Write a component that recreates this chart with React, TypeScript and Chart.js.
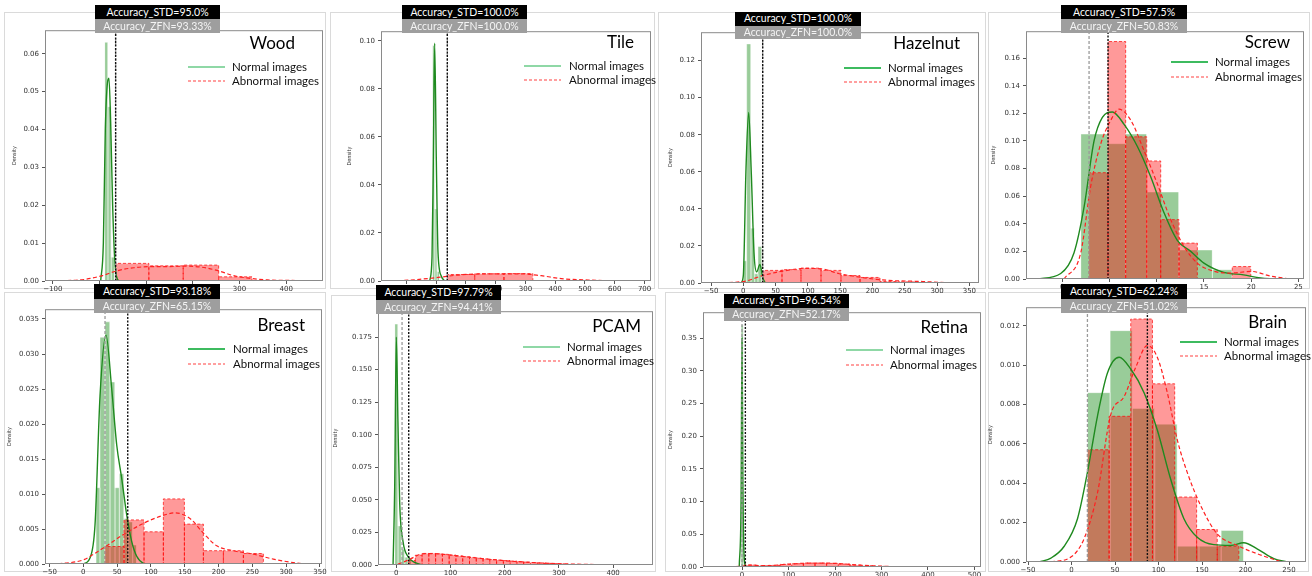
import React, { useEffect, useRef } from 'react';
import { Chart, registerables } from 'chart.js';

Chart.register(...registerables);

// ---------------- Wood ----------------
const woodNormalEdges = [11.1, 18.2, 25.3, 32.4];
const woodNormalHeights = [0.063, 0.046, 0.0063];
const woodAbnormalEdges = [34.6, 105.8, 179.3, 255.3, 326.7];
const woodAbnormalHeights = [0.00465, 0.004, 0.0042, 0.0011];
const woodNormalKdeX = [2.6, 8.3, 12.5, 16.8, 20.3, 23.9, 28.2, 32.5, 38.2, 44];
const woodNormalKdeY = [0, 0.01, 0.04, 0.052, 0.0535, 0.042, 0.02, 0.006, 0.0005, 0];
const woodAbnormalKdeX = [-97, -33, 2.6, 38, 73.7, 109, 145, 180.6, 216, 252, 287.4, 323, 358.8, 430, 455];
const woodAbnormalKdeY = [0, 0.0004, 0.0013, 0.0027, 0.0035, 0.0038, 0.0038, 0.0039, 0.0037, 0.0028, 0.0014, 0.0007, 0.0003, 0.0001, 0];
const woodThresholds = [34.6, 34.6]; // [STD, ZFN]
const woodXTicks = [-100, 0, 100, 200, 300, 400];
const woodYTicks = [0, 0.01, 0.02, 0.03, 0.04, 0.05, 0.06];

// ---------------- Tile ----------------
const tileNormalEdges = [-12, -4, 4, 12];
const tileNormalHeights = [0.098, 0.03, 0.004];
const tileAbnormalEdges = [38, 130, 228, 325];
const tileAbnormalHeights = [0.0027, 0.003, 0.0031];
const tileNormalKdeX = [-21, -13.4, -9, -4.5, 1.1, 6.7, 17.9, 29];
const tileNormalKdeY = [0, 0.01, 0.05, 0.099, 0.05, 0.012, 0.002, 0];
const tileAbnormalKdeX = [-150, -71.6, 6.7, 85, 197, 286, 353, 420, 510, 600, 700];
const tileAbnormalKdeY = [0, 0.0005, 0.0015, 0.0026, 0.003, 0.003, 0.0022, 0.001, 0.0004, 0.0001, 0];
const tileThresholds = [38, 38];
const tileXTicks = [-100, 0, 100, 200, 300, 400, 500, 600, 700];
const tileYTicks = [0, 0.02, 0.04, 0.06, 0.08, 0.1];

// ---------------- Hazelnut ----------------
const hazelnutNormalEdges = [0, 5.2, 11.9, 17.6, 22.7, 28.9];
const hazelnutNormalHeights = [0.012, 0.129, 0.0296, 0.005, 0.0197];
const hazelnutAbnormalEdges = [30, 59.9, 89.3, 120.3, 151.2, 180.7, 211.6, 241.6, 272.5];
const hazelnutAbnormalHeights = [0.0068, 0.0072, 0.008, 0.0068, 0.004, 0.003, 0.0008, 0.0006];
const hazelnutNormalKdeX = [-3.6, 0, 4.2, 8.3, 12.4, 16.6, 20.7, 25.8, 30, 34];
const hazelnutNormalKdeY = [0, 0.004, 0.062, 0.092, 0.059, 0.016, 0.006, 0.01, 0.003, 0];
const hazelnutAbnormalKdeX = [-52.6, 0, 30, 60.8, 97, 123, 148.6, 174.5, 205.4, 236.4, 257, 277.7, 313.8, 340];
const hazelnutAbnormalKdeY = [0, 0.0008, 0.004, 0.0064, 0.0079, 0.0075, 0.005, 0.0035, 0.002, 0.0012, 0.001, 0.0008, 0.0002, 0];
const hazelnutThresholds = [30, 30];
const hazelnutXTicks = [-50, 0, 50, 100, 150, 200, 250, 300, 350];
const hazelnutYTicks = [0, 0.02, 0.04, 0.06, 0.08, 0.1, 0.12];

// ---------------- Screw ----------------
const screwNormalEdges = [1.95, 4.85, 6.7, 8.95, 12.35, 15.9, 18.0];
const screwNormalHeights = [0.105, 0.098, 0.105, 0.063, 0.021, 0.0067];
const screwAbnormalEdges = [2.83, 4.84, 6.71, 8.94, 10.42, 12.36, 14.3, 18.0, 19.96];
const screwAbnormalHeights = [0.077, 0.172, 0.103, 0.0855, 0.043, 0.026, 0, 0.009];
const screwNormalKdeX = [-2.65, -0.17, 1.24, 2.3, 3.36, 4.24, 5.3, 6.54, 7.95, 9.36, 10.77, 12.18, 13.6, 15.0, 17.1, 19.2, 21.0, 22.5];
const screwNormalKdeY = [0, 0.004, 0.019, 0.052, 0.1, 0.117, 0.121, 0.112, 0.096, 0.074, 0.048, 0.028, 0.02, 0.0115, 0.0048, 0.003, 0.0007, 0];
const screwAbnormalKdeX = [0.18, 1.95, 3.0, 4.07, 5.13, 6.0, 7.25, 8.65, 10.06, 11.48, 12.9, 14.3, 16.1, 17.8, 20.0, 22.1, 24.2];
const screwAbnormalKdeY = [0, 0.019, 0.067, 0.098, 0.115, 0.123, 0.115, 0.093, 0.069, 0.043, 0.0235, 0.0115, 0.0055, 0.0043, 0.0055, 0.002, 0];
const screwThresholds = [4.84, 2.83];
const screwXTicks = [0, 5, 10, 15, 20, 25];
const screwYTicks = [0, 0.02, 0.04, 0.06, 0.08, 0.1, 0.12, 0.14, 0.16];

// ---------------- Breast ----------------
const breastNormalEdges = [18.8, 24.7, 32.1, 39.5, 46.9, 53.3, 60.2, 66.6, 73.0, 79.0];
const breastNormalHeights = [0.0109, 0.0324, 0.0346, 0.026, 0.0109, 0.0129, 0.0065, 0.006, 0.0027];
const breastAbnormalEdges = [32.1, 60.2, 89.8, 118.4, 149.5, 177.6, 207.2, 236.8, 266.4];
const breastAbnormalHeights = [0.0025, 0.0063, 0.0046, 0.0093, 0.0057, 0.0019, 0.0019, 0.0015];
const breastNormalKdeX = [0, 10, 17.3, 24.7, 33.6, 42, 49.4, 56.8, 64.2, 71.6, 79, 88.8, 95];
const breastNormalKdeY = [0, 0.0009, 0.0056, 0.024, 0.0327, 0.025, 0.017, 0.0122, 0.007, 0.0032, 0.0011, 0.0001, 0];
const breastAbnormalKdeX = [-37, 0, 29.6, 59.2, 88.8, 113.5, 135.7, 157.8, 177.6, 197.3, 222, 251.5, 281, 310.7, 330];
const breastAbnormalKdeY = [0, 0.0006, 0.0023, 0.0042, 0.0058, 0.0068, 0.0073, 0.0065, 0.0044, 0.0026, 0.0019, 0.0014, 0.0007, 0.0002, 0];
const breastThresholds = [65.7, 32.1];
const breastXTicks = [-50, 0, 50, 100, 150, 200, 250, 300, 350];
const breastYTicks = [0, 0.005, 0.01, 0.015, 0.02, 0.025, 0.03, 0.035];

// ---------------- PCAM ----------------
const pcamNormalEdges = [-3, 3.2, 9.4, 15.6, 21.8, 28];
const pcamNormalHeights = [0.185, 0.03, 0.012, 0.006, 0.003];
const pcamAbnormalEdges = [22.5, 35, 47.5, 60, 72.5, 85, 97.5, 110, 122.5, 135, 147.5, 160, 172.5, 185, 197.5, 210, 222.5, 235, 247.5, 260, 272.5, 285, 297.5, 310];
const pcamAbnormalHeights = [0.0035, 0.0075, 0.0089, 0.0089, 0.0086, 0.0082, 0.0076, 0.007, 0.0064, 0.0058, 0.0052, 0.0047, 0.0042, 0.0038, 0.0034, 0.003, 0.0026, 0.0022, 0.0019, 0.0016, 0.0013, 0.0011, 0.0009];
const pcamNormalKdeX = [-6, -3, 0, 3, 6.2, 12.4, 21.6, 33.9, 50];
const pcamNormalKdeY = [0, 0.06, 0.175, 0.11, 0.048, 0.018, 0.0064, 0.002, 0];
const pcamAbnormalKdeX = [-21, 0, 22.9, 46.9, 65.3, 96, 139, 194.5, 255.9, 317.4, 397, 450];
const pcamAbnormalKdeY = [0, 0.0005, 0.004, 0.0085, 0.0088, 0.0078, 0.0058, 0.0035, 0.0018, 0.0008, 0.0002, 0];
const pcamThresholds = [22.9, 10.6];
const pcamXTicks = [0, 100, 200, 300, 400];
const pcamYTicks = [0, 0.025, 0.05, 0.075, 0.1, 0.125, 0.15, 0.175];

// ---------------- Retina ----------------
const retinaNormalEdges = [-2, 3, 8];
const retinaNormalHeights = [0.37, 0.015];
const retinaAbnormalEdges = [7, 32, 57, 82, 107, 132, 157, 182, 207, 232, 257, 282, 307];
const retinaAbnormalHeights = [0.003, 0.0018, 0.0025, 0.004, 0.005, 0.006, 0.006, 0.0055, 0.0045, 0.003, 0.002, 0.001];
const retinaNormalKdeX = [-6, -2, 0, 2, 5, 10];
const retinaNormalKdeY = [0, 0.1, 0.35, 0.12, 0.01, 0];
const retinaAbnormalKdeX = [-84, 0, 8.6, 51.6, 101.8, 152, 202, 252, 302.5, 352.7, 430];
const retinaAbnormalKdeY = [0, 0.001, 0.003, 0.002, 0.0045, 0.006, 0.0055, 0.003, 0.0012, 0.0003, 0];
const retinaThresholds = [7.2, 0];
const retinaXTicks = [0, 100, 200, 300, 400, 500];
const retinaYTicks = [0, 0.05, 0.1, 0.15, 0.2, 0.25, 0.3, 0.35];

// ---------------- Brain ----------------
const brainNormalEdges = [18.3, 44.4, 70, 95.6, 121.6, 146.5, 172, 198];
const brainNormalHeights = [0.0086, 0.01175, 0.0078, 0.007, 0.0008, 0.0008, 0.0016];
const brainAbnormalEdges = [18.3, 43.2, 68.1, 93, 118.6, 143.8, 167.5, 192.3];
const brainAbnormalHeights = [0.0057, 0.0074, 0.01234, 0.00905, 0.0033, 0.00165, 0.0008];
const brainNormalKdeX = [-37, -23.6, -8.4, 6.9, 18.3, 29.8, 41.3, 54.7, 68.1, 83.4, 98.6, 114, 129.2, 144.5, 163.6, 182.8, 198, 213.3, 232.5, 247.7];
const brainNormalKdeY = [0, 0.0002, 0.0008, 0.0022, 0.00455, 0.0074, 0.0096, 0.0104, 0.0098, 0.0086, 0.0067, 0.0042, 0.0022, 0.00126, 0.00088, 0.00084, 0.00098, 0.00067, 0.00017, 0];
const brainAbnormalKdeX = [-23.6, -0.7, 14.6, 29.8, 45.2, 60.4, 73.9, 87.2, 98.6, 110.1, 121.6, 133, 148.4, 167.4, 190.4, 213.3, 232.5, 242];
const brainAbnormalKdeY = [0, 0.00025, 0.0012, 0.0035, 0.0075, 0.0084, 0.0099, 0.011, 0.0104, 0.0086, 0.0062, 0.00455, 0.00287, 0.00143, 0.00084, 0.00042, 0.00013, 0];
const brainThresholds = [87.2, 18.3];
const brainXTicks = [-50, 0, 50, 100, 150, 200, 250];
const brainYTicks = [0, 0.002, 0.004, 0.006, 0.008, 0.01, 0.012];

// ---------------- labels ----------------
const panelNames = ['Wood', 'Tile', 'Hazelnut', 'Screw', 'Breast', 'PCAM', 'Retina', 'Brain'];
const accuracySTD = ['95.0%', '100.0%', '100.0%', '57.5%', '93.18%', '97.79%', '96.54%', '62.24%'];
const accuracyZFN = ['93.33%', '100.0%', '100.0%', '50.83%', '65.15%', '94.41%', '52.17%', '51.02%'];
const legendLabels = ['Normal images', 'Abnormal images'];

type PanelData = {
  nE: number[]; nH: number[]; aE: number[]; aH: number[];
  nKx: number[]; nKy: number[]; aKx: number[]; aKy: number[]; thr: number[];
  xT: number[]; yT: number[];
};

const panelData: PanelData[] = [
  { nE: woodNormalEdges, nH: woodNormalHeights, aE: woodAbnormalEdges, aH: woodAbnormalHeights, nKx: woodNormalKdeX, nKy: woodNormalKdeY, aKx: woodAbnormalKdeX, aKy: woodAbnormalKdeY, thr: woodThresholds, xT: woodXTicks, yT: woodYTicks },
  { nE: tileNormalEdges, nH: tileNormalHeights, aE: tileAbnormalEdges, aH: tileAbnormalHeights, nKx: tileNormalKdeX, nKy: tileNormalKdeY, aKx: tileAbnormalKdeX, aKy: tileAbnormalKdeY, thr: tileThresholds, xT: tileXTicks, yT: tileYTicks },
  { nE: hazelnutNormalEdges, nH: hazelnutNormalHeights, aE: hazelnutAbnormalEdges, aH: hazelnutAbnormalHeights, nKx: hazelnutNormalKdeX, nKy: hazelnutNormalKdeY, aKx: hazelnutAbnormalKdeX, aKy: hazelnutAbnormalKdeY, thr: hazelnutThresholds, xT: hazelnutXTicks, yT: hazelnutYTicks },
  { nE: screwNormalEdges, nH: screwNormalHeights, aE: screwAbnormalEdges, aH: screwAbnormalHeights, nKx: screwNormalKdeX, nKy: screwNormalKdeY, aKx: screwAbnormalKdeX, aKy: screwAbnormalKdeY, thr: screwThresholds, xT: screwXTicks, yT: screwYTicks },
  { nE: breastNormalEdges, nH: breastNormalHeights, aE: breastAbnormalEdges, aH: breastAbnormalHeights, nKx: breastNormalKdeX, nKy: breastNormalKdeY, aKx: breastAbnormalKdeX, aKy: breastAbnormalKdeY, thr: breastThresholds, xT: breastXTicks, yT: breastYTicks },
  { nE: pcamNormalEdges, nH: pcamNormalHeights, aE: pcamAbnormalEdges, aH: pcamAbnormalHeights, nKx: pcamNormalKdeX, nKy: pcamNormalKdeY, aKx: pcamAbnormalKdeX, aKy: pcamAbnormalKdeY, thr: pcamThresholds, xT: pcamXTicks, yT: pcamYTicks },
  { nE: retinaNormalEdges, nH: retinaNormalHeights, aE: retinaAbnormalEdges, aH: retinaAbnormalHeights, nKx: retinaNormalKdeX, nKy: retinaNormalKdeY, aKx: retinaAbnormalKdeX, aKy: retinaAbnormalKdeY, thr: retinaThresholds, xT: retinaXTicks, yT: retinaYTicks },
  { nE: brainNormalEdges, nH: brainNormalHeights, aE: brainAbnormalEdges, aH: brainAbnormalHeights, nKx: brainNormalKdeX, nKy: brainNormalKdeY, aKx: brainAbnormalKdeX, aKy: brainAbnormalKdeY, thr: brainThresholds, xT: brainXTicks, yT: brainYTicks },
];

// axis settings: [xMin, xMax, yMax, yDecimals]
const axisSettings: number[][] = [
  [-116.7, 478.8, 0.0662, 2],
  [-184.6, 721.5, 0.104, 2],
  [-65.5, 364.9, 0.1353, 2],
  [-3.85, 25.6, 0.1795, 2],
  [-56.7, 353.1, 0.0364, 3],
  [-33.8, 473.6, 0.1949, 3],
  [-83.9, 514, 0.3897, 2],
  [-52.3, 269.5, 0.01294, 3],
];

// ---------------- layout (page pixels) ----------------
type Layout = {
  L: number; R: number; T: number; B: number; densX: number;
  box: number[]; title: number[]; legend: number[]; legendGreen: string;
};
const layouts: Layout[] = [
  { L: 45, R: 323, T: 29, B: 281, densX: 15, box: [95, 5, 125, 14], title: [295, 43], legend: [188, 225, 67, 81, 232], legendGreen: '#8fd8a6' },
  { L: 381, R: 651, T: 30, B: 281, densX: 350, box: [402, 5, 125, 14], title: [634, 42], legend: [524, 561, 66, 80, 569], legendGreen: '#8fd8a6' },
  { L: 701, R: 979, T: 31, B: 283, densX: 671, box: [735, 12, 126, 13.5], title: [960, 43], legend: [844, 881, 68, 82, 888], legendGreen: '#3dbb5f' },
  { L: 1026, R: 1304, T: 30, B: 279, densX: 994, box: [1061, 5, 126, 14], title: [1290, 42], legend: [1171, 1208, 62, 77, 1215], legendGreen: '#3dbb5f' },
  { L: 45, R: 322, T: 308, B: 564, densX: 10, box: [94, 284, 126, 14.5], title: [305, 325], legend: [188, 225, 349, 364, 233], legendGreen: '#3dbb5f' },
  { L: 378, R: 653, T: 310, B: 565, densX: 336, box: [376, 285, 125, 14.5], title: [641, 326], legend: [523, 560, 347, 361, 567], legendGreen: '#8fd8a6' },
  { L: 703, R: 981, T: 311, B: 567, densX: 671, box: [724, 294, 125, 13.5], title: [968, 327], legend: [846, 883, 350, 365, 890], legendGreen: '#8fd8a6' },
  { L: 1026, R: 1306, T: 306, B: 562, densX: 991, box: [1061, 284, 126, 14.5], title: [1287, 322], legend: [1180, 1217, 342, 356, 1224], legendGreen: '#3dbb5f' },
];

const cards = [
  [4, 12, 326, 289], [330, 12, 655, 289], [658, 12, 986, 289], [988, 12, 1310, 289],
  [4, 292, 326, 572], [331, 295, 656, 572], [665, 292, 986, 572], [988, 292, 1309, 572],
];

const UI_FONT = 'Lato, "Open Sans", "Liberation Sans", sans-serif';

function histPoints(edges: number[], heights: number[]) {
  const pts: { x: number; y: number }[] = [];
  for (let i = 0; i < heights.length; i++) {
    pts.push({ x: edges[i], y: 0 }, { x: edges[i], y: heights[i] }, { x: edges[i + 1], y: heights[i] }, { x: edges[i + 1], y: 0 });
  }
  return pts;
}

function curvePoints(xs: number[], ys: number[]) {
  return xs.map((x, i) => ({ x, y: ys[i] }));
}

const framePlugin = {
  id: 'frame',
  afterDraw(chart: any) {
    const { ctx, chartArea: a } = chart;
    ctx.save();
    ctx.strokeStyle = '#8a8a8a';
    ctx.lineWidth = 1;
    ctx.strokeRect(a.left + 0.5, a.top + 0.5, a.right - a.left - 1, a.bottom - a.top - 1);
    ctx.restore();
  },
};

const YW = 48, PT = 6, PR = 10, XH = 16;

function fmtX(v: number) {
  return v < 0 ? '\u2212' + Math.abs(v) : String(v);
}

function PanelChart({ idx }: { idx: number }) {
  const ref = useRef<HTMLCanvasElement>(null);
  const lay = layouts[idx];
  const d = panelData[idx];
  const [xMin, xMax, yMax, yDec] = axisSettings[idx];
  const cl = lay.L - YW;
  const ct = lay.T - PT;
  const w = YW + (lay.R - lay.L) + PR;
  const h = PT + (lay.B - lay.T) + XH;
  const titleFont = 5.5;
  const titlePad = Math.max(0, lay.densX - cl - (titleFont * 1.2) / 2);

  useEffect(() => {
    if (!ref.current) return;
    const chart = new Chart(ref.current, {
      type: 'line',
      data: {
        datasets: [
          { data: [{ x: d.thr[0], y: 0 }, { x: d.thr[0], y: yMax }], borderColor: '#111', borderWidth: 1.4, borderDash: [2, 1.5], pointRadius: 0, order: 0 },
          { data: [{ x: d.thr[1], y: 0 }, { x: d.thr[1], y: yMax }], borderColor: '#9a9a9a', borderWidth: 1.3, borderDash: [3, 2], pointRadius: 0, order: 1 },
          { data: curvePoints(d.aKx, d.aKy), borderColor: '#ff2020', borderWidth: 1.2, borderDash: [4, 2.5], pointRadius: 0, cubicInterpolationMode: 'monotone', order: 2 },
          { data: curvePoints(d.nKx, d.nKy), borderColor: '#1f8a1f', borderWidth: 1.4, pointRadius: 0, cubicInterpolationMode: 'monotone', order: 3 },
          { data: histPoints(d.aE, d.aH), borderColor: 'rgba(255,0,0,0.7)', borderWidth: 1, borderDash: [3, 2], backgroundColor: 'rgba(255,0,0,0.4)', fill: 'origin', pointRadius: 0, tension: 0, order: 4 },
          { data: histPoints(d.nE, d.nH), borderColor: 'rgba(255,255,255,0.55)', borderWidth: 0.8, backgroundColor: 'rgba(0,128,0,0.4)', fill: 'origin', pointRadius: 0, tension: 0, order: 5 },
        ] as any,
      },
      options: {
        animation: false,
        responsive: false,
        events: [],
        layout: { padding: { left: 0, top: PT, right: PR, bottom: 0 } },
        plugins: { legend: { display: false }, tooltip: { enabled: false } },
        scales: {
          x: {
            type: 'linear',
            min: xMin,
            max: xMax,
            border: { display: false },
            grid: { display: true, drawOnChartArea: false, drawTicks: true, tickLength: 3, color: '#555' },
            afterBuildTicks: (s: any) => { s.ticks = d.xT.map((v) => ({ value: v })); },
            ticks: {
              autoSkip: false,
              maxRotation: 0,
              padding: 1,
              color: '#333',
              font: { family: 'DejaVu Sans', size: 7 },
              callback: (v: any) => fmtX(Number(v)),
            },
            afterFit: (s: any) => { s.height = XH; },
          },
          y: {
            type: 'linear',
            min: 0,
            max: yMax,
            border: { display: false },
            grid: { display: true, drawOnChartArea: false, drawTicks: true, tickLength: 3, color: '#555' },
            afterBuildTicks: (s: any) => { s.ticks = d.yT.map((v) => ({ value: v })); },
            ticks: {
              autoSkip: false,
              padding: 3,
              color: '#333',
              font: { family: 'DejaVu Sans', size: 7 },
              callback: (v: any) => Number(v).toFixed(yDec),
            },
            title: {
              display: true,
              text: 'Density',
              color: '#333',
              font: { family: 'DejaVu Sans Condensed, DejaVu Sans', size: titleFont },
              padding: { top: titlePad, bottom: 0 },
            },
            afterFit: (s: any) => { s.width = YW; },
          },
        },
      } as any,
      plugins: [framePlugin],
    });
    return () => chart.destroy();
  }, []);

  return (
    <canvas
      ref={ref}
      width={w}
      height={h}
      style={{ position: 'absolute', left: cl, top: ct, width: w, height: h }}
    />
  );
}

function LegendRow({ x1, x2, y, tx, color, dashed, label }: { x1: number; x2: number; y: number; tx: number; color: string; dashed: boolean; label: string }) {
  const len = x2 - x1;
  return (
    <div style={{ position: 'absolute', left: x1, top: y - 8, height: 16, display: 'flex', alignItems: 'center' }}>
      <svg width={len} height={6} style={{ display: 'block', flex: 'none' }}>
        <line x1={0} y1={3} x2={len} y2={3} stroke={color} strokeWidth={dashed ? 1.2 : 1.8} strokeDasharray={dashed ? '3 2' : undefined} />
      </svg>
      <span style={{ fontFamily: UI_FONT, fontSize: 11.5, color: '#111', whiteSpace: 'nowrap', marginLeft: tx - x2, lineHeight: '16px' }}>{label}</span>
    </div>
  );
}

function Overlay({ idx }: { idx: number }) {
  const lay = layouts[idx];
  const [bx, by, bw, bh] = lay.box;
  const [lx1, lx2, ly1, ly2, tx] = lay.legend;
  return (
    <>
      <div style={{ position: 'absolute', left: bx, top: by, width: bw, height: bh, background: '#000', color: '#fff', fontFamily: UI_FONT, fontSize: 10.5, lineHeight: bh + 'px', textAlign: 'center', whiteSpace: 'nowrap' }}>
        {'Accuracy_STD=' + accuracySTD[idx]}
      </div>
      <div style={{ position: 'absolute', left: bx, top: by + bh, width: bw, height: bh, background: '#9e9e9e', color: '#f4f4f4', fontFamily: UI_FONT, fontSize: 10.5, lineHeight: bh + 'px', textAlign: 'center', whiteSpace: 'nowrap' }}>
        {'Accuracy_ZFN=' + accuracyZFN[idx]}
      </div>
      <div style={{ position: 'absolute', left: lay.title[0] - 120, width: 120, top: lay.title[1] - 11, height: 22, lineHeight: '22px', textAlign: 'right', fontFamily: UI_FONT, fontSize: 17, color: '#000' }}>
        {panelNames[idx]}
      </div>
      <LegendRow x1={lx1} x2={lx2} y={ly1} tx={tx} color={lay.legendGreen} dashed={false} label={legendLabels[0]} />
      <LegendRow x1={lx1} x2={lx2} y={ly2} tx={tx} color="#ff4040" dashed={true} label={legendLabels[1]} />
    </>
  );
}

export default function App() {
  return (
    <div style={{ position: 'absolute', left: 0, top: 0, width: 1312, height: 576, overflow: 'hidden', background: '#fff' }}>
      {cards.map((c, i) => (
        <div key={'c' + i} style={{ position: 'absolute', left: c[0], top: c[1], width: c[2] - c[0], height: c[3] - c[1], border: '1px solid #dadada', boxSizing: 'border-box' }} />
      ))}
      {panelNames.map((_, i) => <PanelChart key={'p' + i} idx={i} />)}
      {panelNames.map((_, i) => <Overlay key={'o' + i} idx={i} />)}
    </div>
  );
}
